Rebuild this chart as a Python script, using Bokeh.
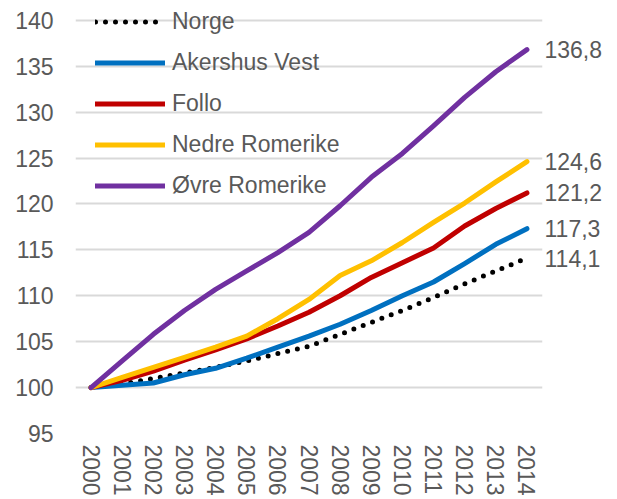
import math
from bokeh.plotting import figure
from bokeh.models import (Range1d, FixedTicker, Legend, LegendItem, LinearAxis)
from bokeh.embed import file_html
from bokeh.resources import INLINE

years = list(range(2000, 2015))
norge = [100.0, 100.4, 101.0, 101.6, 102.2, 102.9, 103.7, 104.5, 105.8, 107.1, 108.4, 109.8, 111.3, 112.7, 114.1]
akershus_vest = [100.0, 100.25, 100.5, 101.4, 102.1, 103.2, 104.4, 105.6, 106.9, 108.4, 110.0, 111.5, 113.5, 115.6, 117.3]
follo = [100.0, 100.8, 101.8, 103.0, 104.1, 105.3, 106.7, 108.2, 110.0, 112.0, 113.6, 115.2, 117.6, 119.5, 121.2]
nedre_romerike = [100.0, 101.1, 102.2, 103.3, 104.4, 105.6, 107.5, 109.6, 112.2, 113.8, 115.8, 118.0, 120.1, 122.4, 124.6]
ovre_romerike = [100.0, 102.9, 105.8, 108.4, 110.7, 112.7, 114.7, 116.9, 119.8, 122.9, 125.5, 128.5, 131.6, 134.4, 136.8]
series_names = ["Norge", "Akershus Vest", "Follo", "Nedre Romerike", "Øvre Romerike"]
end_labels = ["114,1", "117,3", "121,2", "124,6", "136,8"]
end_values = [114.1, 117.3, 121.2, 124.6, 136.8]
y_ticks = [95, 100, 105, 110, 115, 120, 125, 130, 135, 140]

FONT = "Liberation Sans"
TXT = "#595959"
FS = "23px"

p = figure(width=612, height=498, x_range=Range1d(1999.5, 2014.5), y_range=Range1d(95, 141.5),
           output_backend="svg", toolbar_location=None,
           min_border_left=75, min_border_right=70, min_border_top=6, min_border_bottom=65)
p.outline_line_color = None
p.background_fill_color = "white"
p.border_fill_color = "white"

left_ticker = FixedTicker(ticks=y_ticks)
p.yaxis.ticker = left_ticker
p.xaxis.ticker = FixedTicker(ticks=years)
p.xgrid.grid_line_color = None
p.ygrid.ticker = left_ticker
p.ygrid.grid_line_color = "#d9d9d9"
p.ygrid.grid_line_width = 2

right_axis = LinearAxis(ticker=FixedTicker(ticks=end_values),
                        major_label_overrides=dict(zip(end_values, end_labels)))
p.add_layout(right_axis, "right")

for ax in (p.xaxis[0], p.yaxis[0], right_axis):
    ax.axis_line_color = None
    ax.major_tick_line_color = None
    ax.minor_tick_line_color = None
    ax.major_tick_out = 0
    ax.major_tick_in = 0
    ax.minor_tick_out = 0
    ax.minor_tick_in = 0
    ax.major_label_text_font = FONT
    ax.major_label_text_font_size = FS
    ax.major_label_text_color = TXT
p.yaxis[0].major_label_standoff = 22
right_axis.major_label_standoff = 2
p.xaxis[0].major_label_standoff = 11
p.xaxis[0].major_label_orientation = -math.pi / 2

LW = 5
r_norge = p.line(years, norge, line_color="black", line_width=LW, line_dash="0 10", line_cap="round")
r_av = p.line(years, akershus_vest, line_color="#0070C0", line_width=LW, line_cap="round", line_join="round")
r_fo = p.line(years, follo, line_color="#C00000", line_width=LW, line_cap="round", line_join="round")
r_nr = p.line(years, nedre_romerike, line_color="#FFC000", line_width=LW, line_cap="round", line_join="round")
r_or = p.line(years, ovre_romerike, line_color="#7030A0", line_width=LW, line_cap="round", line_join="round")

renderers = [r_norge, r_av, r_fo, r_nr, r_or]
legend = Legend(items=[LegendItem(label=n, renderers=[r]) for n, r in zip(series_names, renderers)],
                location=(20, 234), glyph_width=70, glyph_height=27, label_height=27,
                spacing=14, padding=0, margin=0, label_standoff=7,
                label_text_font=FONT, label_text_font_size=FS, label_text_color=TXT,
                background_fill_alpha=0, border_line_color=None)
p.add_layout(legend)

open("out.html", "w").write(file_html(p, INLINE))
